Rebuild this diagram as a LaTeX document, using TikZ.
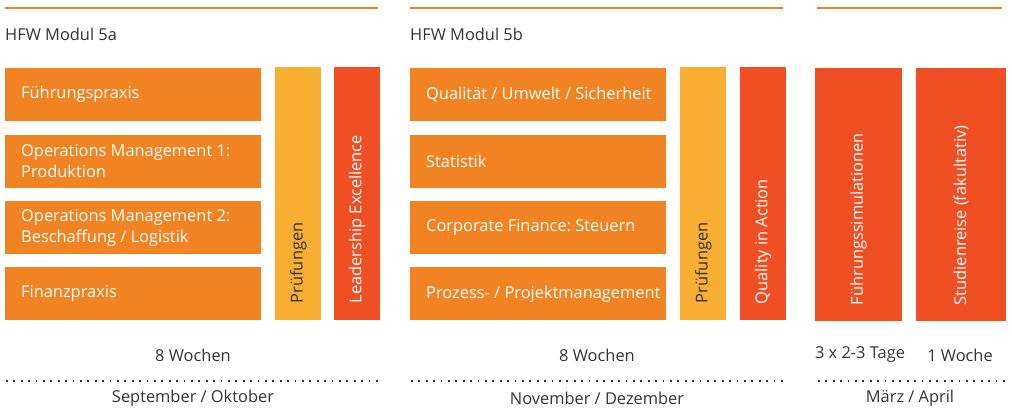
\documentclass[tikz,border=0pt]{standalone}
\usepackage{fontspec}
\setmainfont{Open Sans}
\usetikzlibrary{positioning}
\definecolor{modorange}{HTML}{F28322}
\definecolor{exyellow}{HTML}{F9AE34}
\definecolor{accred}{HTML}{F04E23}
\definecolor{txtgray}{HTML}{333333}
\newcommand{\fs}{\fontsize{16.4}{21}\selectfont}
\frenchspacing
\tikzset{%
	fach/.style={
		fill=modorange,
		minimum width=256pt,
		minimum height=53pt,
		inner sep=0pt
	},
	fachtext/.style={
		text=white,
		anchor=west,
		align=left,
		inner sep=0pt,
		font=\fs
	},
	bar/.style={
		minimum width=46pt,
		minimum height=253pt,
		anchor=north west,
		inner sep=0pt
	},
	barlabel/.style={
		rotate=90,
		anchor=west,
		inner sep=0pt,
		font=\fs
	},
	info/.style={
		text=txtgray,
		font=\fs,
		inner sep=0pt
	},
	topline/.style={modorange, line width=1.6pt},
	dotline/.style={txtgray, line width=1.8pt, dash pattern=on 1.8pt off 5.6pt}
}
\begin{document}
\begin{tikzpicture}[x=1pt, y=-1pt]
	\useasboundingbox (0,0) rectangle (1012,409);

	% top lines and titles
	\coordinate (l1a) at (5,8);    \coordinate (l1b) at (378,8);
	\coordinate (l2a) at (410,8);  \coordinate (l2b) at (783,8);
	\coordinate (l3a) at (817,8);  \coordinate (l3b) at (1002,8);
	\draw[topline] (l1a) -- (l1b);
	\draw[topline] (l2a) -- (l2b);
	\draw[topline] (l3a) -- (l3b);
	\node[info, anchor=west] (t5a) at (5,34) {HFW Modul 5a};
	\node[info, anchor=west] (t5b) at (410,34) {HFW Modul 5b};

	% Modul 5a
	\node[fach, anchor=north west] (a1) at (5,68) {};
	\node[fach, below=13pt of a1] (a2) {};
	\node[fach, below=13pt of a2] (a3) {};
	\node[fach, below=13pt of a3] (a4) {};
	\node[fachtext] at ([xshift=16pt]a1.west) {Führungspraxis};
	\node[fachtext] at ([xshift=16pt]a2.west) {Operations Management 1:\\Produktion};
	\node[fachtext] at ([xshift=16pt]a3.west) {Operations Management 2:\\Beschaffung / Logistik};
	\node[fachtext] at ([xshift=16pt]a4.west) {Finanzpraxis};
	\node[bar, fill=exyellow] (pa) at (275,67) {};
	\node[bar, fill=accred] (le) at (334,67) {};
	\node[barlabel, text=txtgray] at ([yshift=17pt]pa.south) {Prüfungen};
	\node[barlabel, text=white] at ([yshift=17pt]le.south) {Leadership Excellence};

	% Modul 5b
	\node[fach, anchor=north west] (b1) at (410,68) {};
	\node[fach, below=13pt of b1] (b2) {};
	\node[fach, below=13pt of b2] (b3) {};
	\node[fach, below=13pt of b3] (b4) {};
	\node[fachtext] at ([xshift=16pt]b1.west) {Qualität / Umwelt / Sicherheit};
	\node[fachtext] at ([xshift=16pt]b2.west) {Statistik};
	\node[fachtext] at ([xshift=16pt]b3.west) {Corporate Finance: Steuern};
	\node[fachtext] at ([xshift=16pt]b4.west) {Prozess- / Projektmanagement};
	\node[bar, fill=exyellow] (pb) at (680,67) {};
	\node[bar, fill=accred] (qa) at (740,67) {};
	\node[barlabel, text=txtgray] at ([yshift=17pt]pb.south) {Prüfungen};
	\node[barlabel, text=white] at ([yshift=16pt]qa.south) {Quality in Action};

	% Abschluss
	\node[bar, fill=accred, minimum width=87pt] (fs) at (815,68) {};
	\node[bar, fill=accred, minimum width=90pt] (sr) at (916,68) {};
	\node[barlabel, text=white] at ([yshift=16pt]fs.south) {Führungssimulationen};
	\node[barlabel, text=white] at ([yshift=16pt]sr.south) {Studienreise (fakultativ)};

	% Dauer und Termine
	\node[info] (w1) at (193,355) {8 Wochen};
	\node[info] (w2) at (597,355) {8 Wochen};
	\node[info] (w3) at (860,355) {3 x 2-3 Tage};
	\node[info] (w4) at (960,355) {1 Woche};
	\coordinate (d1a) at (6,381);   \coordinate (d1b) at (381,381);
	\coordinate (d2a) at (411,381); \coordinate (d2b) at (786,381);
	\coordinate (d3a) at (818,381); \coordinate (d3b) at (1008,381);
	\draw[dotline] (d1a) -- (d1b);
	\draw[dotline] (d2a) -- (d2b);
	\draw[dotline] (d3a) -- (d3b);
	\node[info] (m1) at (193,398) {September / Oktober};
	\node[info] (m2) at (597,398) {November / Dezember};
	\node[info] (m3) at (910,398) {März / April};
\end{tikzpicture}
\end{document}
